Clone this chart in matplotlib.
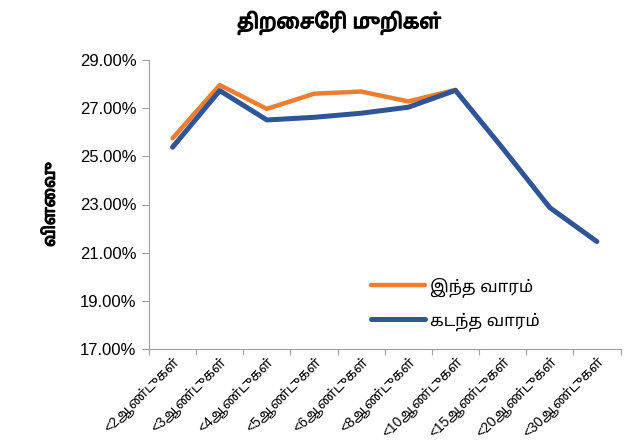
import numpy as np
import matplotlib
matplotlib.use("Agg")
import matplotlib.pyplot as plt
import matplotlib.patheffects as pe
from matplotlib import font_manager
from matplotlib.ticker import FuncFormatter, FixedLocator

# look for fonts that have Tamil glyphs, prefer a proper sans one
cands = []
try:
    from fontTools.ttLib import TTFont
    for f in font_manager.fontManager.ttflist:
        try:
            tt = TTFont(f.fname, fontNumber=0, lazy=True)
            cmap = tt.getBestCmap()
            if cmap and 0x0B95 in cmap:
                cands.append(f.name)
        except Exception:
            pass
except Exception:
    pass

def score(n):
    s = 0
    if 'Tamil' in n:
        s += 4
    if 'Sans' in n:
        s += 2
    if 'Mono' in n or 'Code' in n:
        s -= 5
    return s

cands = sorted(set(cands), key=score, reverse=True)
tamil_font = cands[0] if cands else None

families = ['Liberation Sans'] + ([tamil_font] if tamil_font else []) + ['DejaVu Sans']
plt.rcParams['font.family'] = families

categories = ['<2ஆண்டுகள்', '<3ஆண்டுகள்', '<4ஆண்டுகள்', '<5ஆண்டுகள்', '<6ஆண்டுகள்',
              '<8ஆண்டுகள்', '<10ஆண்டுகள்', '<15ஆண்டுகள்', '<20ஆண்டுகள்', '<30ஆண்டுகள்']
this_week = [25.75, 27.96, 26.97, 27.60, 27.69, 27.28, 27.76]
last_week = [25.38, 27.73, 26.51, 26.62, 26.79, 27.04, 27.74, 25.34, 22.87, 21.46]
y_ticks = [17, 19, 21, 23, 25, 27, 29]

# fake bold for the tamil-only text (font has no bold face)
bold = [pe.withStroke(linewidth=0.9, foreground='black')]

fig = plt.figure(figsize=(6.42, 4.4), dpi=100)
ax = fig.add_axes([149/642, 1 - 349/440, (620.5 - 149)/642, (349 - 60)/440])

x1 = np.arange(len(this_week))
x2 = np.arange(len(last_week))
ax.plot(x1, this_week, color='#ED7D31', linewidth=3.2, label='இந்த வாரம்', solid_capstyle='round', zorder=2)
ax.plot(x2, last_week, color='#2F5597', linewidth=3.6, label='கடந்த வாரம்', solid_capstyle='round', zorder=3)

ax.set_xlim(-0.5, len(categories) - 0.5)
ax.set_ylim(17, 29)
ax.set_yticks(y_ticks)
ax.yaxis.set_major_formatter(FuncFormatter(lambda v, p: '%.2f%%' % v))
ax.xaxis.set_major_locator(FixedLocator(np.arange(len(categories) + 1) - 0.5))
ax.xaxis.set_major_formatter(FuncFormatter(lambda v, p: ''))
ax.xaxis.set_minor_locator(FixedLocator(np.arange(len(categories))))
ax.set_xticklabels(categories, minor=True, rotation=45, ha='right', va='top', fontsize=10,
                   rotation_mode='anchor')
ax.tick_params(axis='x', which='minor', length=0, pad=4)
ax.tick_params(axis='x', which='major', length=4, color='#A0A0A0', direction='out')
ax.tick_params(axis='y', length=5, color='#A0A0A0', labelsize=12, pad=4)

for s in ['top', 'right']:
    ax.spines[s].set_visible(False)
for s in ['left', 'bottom']:
    ax.spines[s].set_color('#A0A0A0')

yl = ax.set_ylabel('விளைவு', fontsize=12, fontweight='bold', labelpad=16)
yl.set_path_effects(bold)
ttl = fig.text(0.528, 0.948, 'திறைசேரி முறிகள்', ha='center', va='center', fontsize=14.5,
               fontweight='bold')
ttl.set_path_effects(bold)

ax.legend(loc='upper left', bbox_to_anchor=(0.44, 0.30), frameon=False, fontsize=12,
          handlelength=3.2, labelspacing=0.9, handletextpad=0.3)

fig.savefig('out.png', dpi=100)
